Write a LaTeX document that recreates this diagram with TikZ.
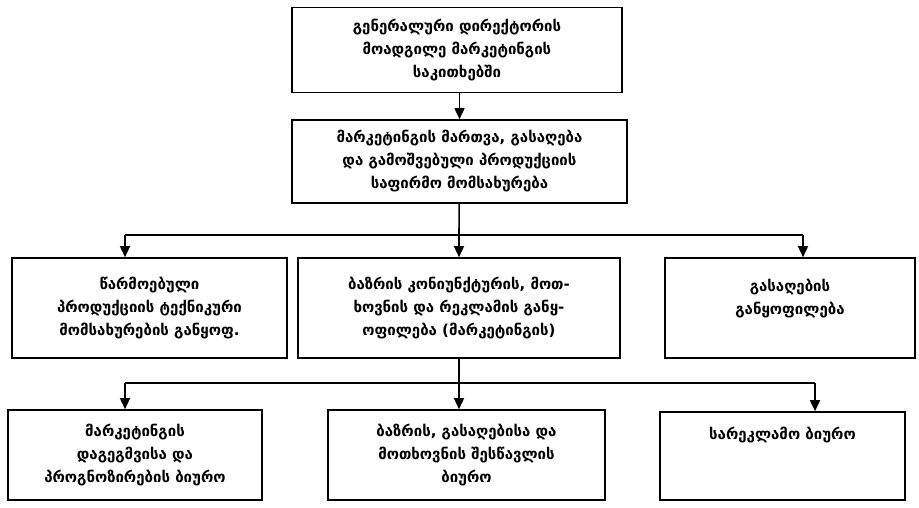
\documentclass[tikz,border=0pt]{standalone}
\usepackage{fontspec}
\setmainfont{DejaVu Sans}
\usetikzlibrary{arrows.meta}

\tikzset{
  unit/.style={draw, line width=1.6pt, align=center, inner sep=2pt,
    font=\bfseries\fontsize{15}{23}\selectfont},
  link/.style={line width=1.6pt},
  arr/.style={link, -{Triangle[length=11pt,width=10pt]}},
}

\begin{document}
\begin{tikzpicture}[x=1pt,y=-1pt]
  \useasboundingbox (0,0) rectangle (919,508);
  % top of the chart
  \node[unit, minimum width=330pt, minimum height=85pt] (gd) at (457,50)
    {გენერალური დირექტორის\\მოადგილე მარკეტინგის\\საკითხებში};
  \node[unit, minimum width=335pt, minimum height=83pt] (mgmt) at (459.5,161.5)
    {მარკეტინგის მართვა, გასაღება\\და გამოშვებული პროდუქციის\\საფირმო მომსახურება};
  % departments
  \node[unit, minimum width=275pt, minimum height=100pt] (service) at (149.5,308)
    {წარმოებული\\პროდუქციის ტექნიკური\\მომსახურების განყოფ.};
  \node[unit, minimum width=322pt, minimum height=100pt] (market) at (459,308)
    {ბაზრის კონიუნქტურის, მოთ-\\ხოვნის და რეკლამის განყ-\\ოფილება (მარკეტინგის)};
  \node[unit, minimum width=250pt, minimum height=100pt] (sales) at (790,308)
    {გასაღების\\განყოფილება\\\mbox{}};
  % bureaus
  \node[unit, minimum width=254pt, minimum height=90pt] (plan) at (135,455)
    {მარკეტინგის\\დაგეგმვისა და\\პროგნოზირების ბიურო};
  \node[unit, minimum width=277pt, minimum height=90pt] (research) at (466.5,455)
    {ბაზრის, გასაღებისა და\\მოთხოვნის შესწავლის\\ბიურო};
  \node[unit, minimum width=245pt, minimum height=88pt] (adv) at (782.5,456)
    {სარეკლამო ბიურო\\\mbox{}\\\mbox{}};

  \coordinate (j1) at (459,235);
  \coordinate (l1) at (125,235);
  \coordinate (r1) at (803,235);
  \coordinate (j2) at (459,383);
  \coordinate (l2) at (125,383);
  \coordinate (r2) at (815,383);

  \draw[arr] (gd.south -| mgmt) -- (mgmt);
  \draw[link] (mgmt) -- (j1);
  \draw[link] (l1) -- (r1);
  \draw[arr] (l1) -- (l1 |- service.north);
  \draw[arr] (j1) -- (market);
  \draw[arr] (r1) -- (r1 |- sales.north);

  \draw[link] (market) -- (j2);
  \draw[link] (l2) -- (r2);
  \draw[arr] (l2) -- (l2 |- plan.north);
  \draw[arr] (j2) -- (j2 |- research.north);
  \draw[arr] (r2) -- (r2 |- adv.north);
\end{tikzpicture}
\end{document}
